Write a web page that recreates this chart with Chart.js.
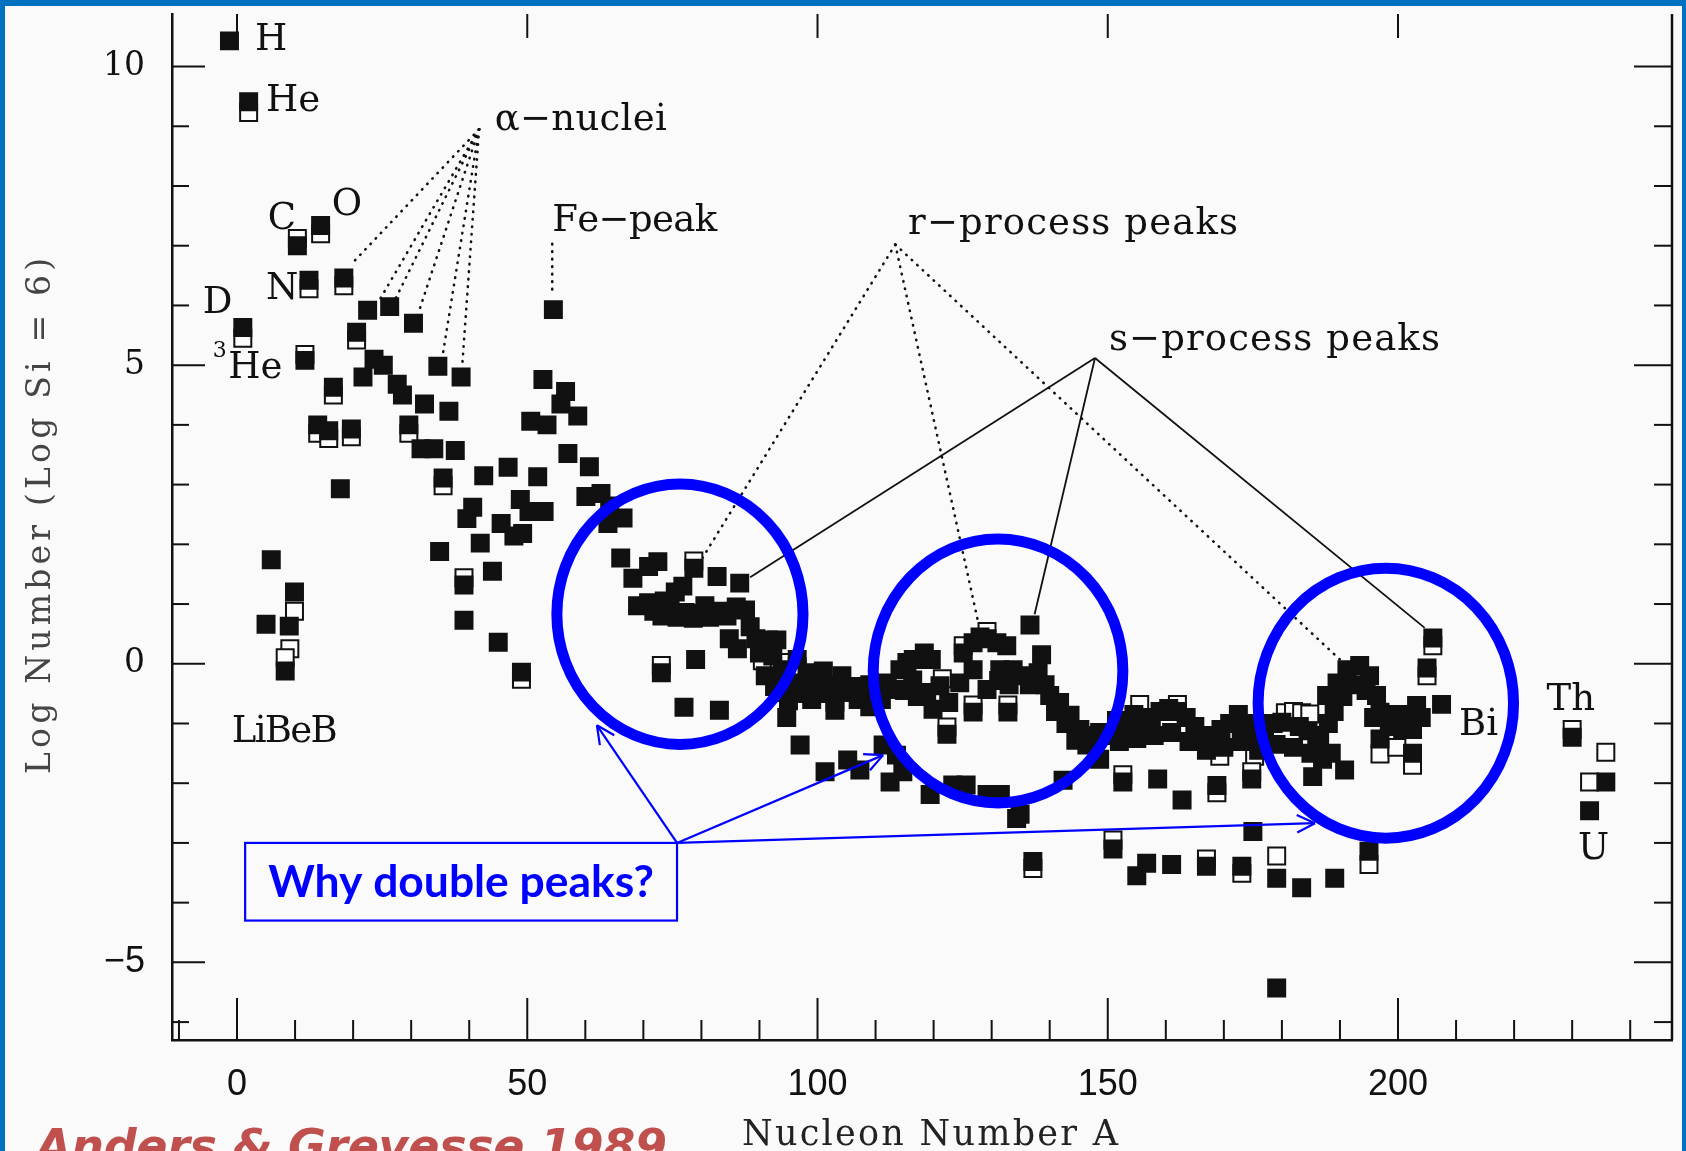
<!DOCTYPE html>
<html>
<head>
<meta charset="utf-8">
<script src="https://cdn.jsdelivr.net/npm/chart.js@4.4.1/dist/chart.umd.min.js"></script>
<style>
  html, body { margin: 0; padding: 0; background: #fafafa; }
  #wrap { position: relative; width: 1686px; height: 1151px; overflow: hidden; }
  #frame { position: absolute; left: 0; top: 0; width: 1686px; height: 1151px; box-sizing: border-box;
           border-top: 6px solid #0070c0; border-left: 5px solid #0070c0; border-right: 4px solid #0070c0;
           pointer-events: none; }
</style>
</head>
<body>
<div id="wrap">
  <canvas id="abund" width="1686" height="1151"></canvas>
  <div id="frame"></div>
</div>
<script>
// axis ranges and tick labels
var xRange = [-11.2, 247.2];
var yRange = [-6.3, 10.88];
var xTickStep = 50;
var yTickStep = 5;

// solar abundances: [nucleon number A, log N]
// filled squares
var filledLight = [
  [-1.3,10.43],[2.0,9.41],[1.0,5.63],
  [5.9,1.74],[5.0,0.66],[9.0,0.63],[9.9,1.2],[8.3,-0.12],
  [10.4,7.0],[11.7,5.08],[12.4,6.42],[14.4,7.34],[16.6,4.63],
  [13.9,4.0],[15.8,3.9],[19.7,3.93],[17.8,2.93],[18.4,6.46],
  [20.6,5.55],[21.7,4.8],[22.5,5.92],[23.6,5.1],[25.2,5.0],
  [27.6,4.68],[28.5,4.5],[26.3,5.98],[29.6,4.0],[31.7,3.6],[33.9,3.6],
  [32.3,4.35],[30.4,5.7],[36.5,4.23],[37.6,3.57],[34.6,4.98],[38.6,4.8],
  [35.5,3.11],[42.5,3.15],[40.6,2.62],[39.6,2.43],[41.9,2.02],[34.9,1.88],
  [44.0,1.55],[39.1,1.32],[39.1,0.73],[45.0,0.36],[49.0,-0.14]
];
var filledFe = [
  [54.5,5.93],[52.7,4.76],[56.6,4.56],[55.8,4.35],[58.7,4.15],
  [50.6,4.06],[53.4,4.0],[57.0,3.52],[60.7,3.3],[46.7,3.29],
  [51.8,3.13],[60.1,2.8],[62.7,2.85],[48.8,2.75],[45.5,2.35],[50.3,2.55],[52.9,2.55],
  [47.7,2.14],[49.2,2.18],[63.9,2.35],[66.5,2.44],[64.2,2.64],[66.1,1.77]
];
var filledBand70 = [
  [72.5,1.71],[68.2,1.43],[70.9,1.63],[78.7,1.6],[82.7,1.46],[86.6,1.35],
  [76.8,1.3],[75.5,1.2],[70.9,1.02],[69.0,0.97],
  [71.8,0.88],[73.2,0.8],[74.6,0.92],[75.8,0.78],[77.2,0.86],[78.6,0.76],
  [80.0,0.84],[81.4,0.78],[83.0,0.88],[84.4,0.8],[86.0,0.95],[87.6,0.9],[73.6,1.05],[80.6,0.97],
  [84.8,0.42],[86.2,0.25],[79.0,0.07],[73.1,-0.15],[77.0,-0.73],[83.1,-0.78],
  [88.4,0.62],[89.4,0.42],[90.0,0.18]
];
var filledBand90 = [
  [91.5,0.4],[93.0,0.4],[92.3,0.13],[91.0,-0.2],[94.0,-0.1],[96.5,0.07],
  [92.6,-0.38],[94.2,-0.48],[95.6,-0.32],[97.0,-0.5],[98.5,-0.38],[100.0,-0.3],
  [101.0,-0.12],[101.6,-0.5],[103.0,-0.35],[104.5,-0.48],[106.0,-0.38],[107.5,-0.5],
  [109.0,-0.35],[110.5,-0.45],[112.0,-0.32],[113.6,-0.43],[98.2,-0.15],[104.2,-0.2],
  [95.0,-0.62],[99.0,-0.6],[103.0,-0.64],[107.0,-0.6],[111.0,-0.6],
  [94.7,-0.9],[97.0,-1.36],[101.3,-1.81],[103.0,-0.78],[105.2,-1.61],[107.3,-1.78],
  [109.0,-0.72],[111.3,-1.36],[113.6,-1.53],[112.5,-1.98],[114.7,-1.81]
];
var filledBand115 = [
  [114.2,-0.1],[115.4,0.02],[116.5,0.07],[118.4,0.18],[119.6,0.07],[116.4,-0.27],[118.8,-0.48],
  [119.9,-0.76],[121.1,-0.37],[122.6,-0.65],[122.3,-1.18],[124.5,-0.32],[125.1,0.18],
  [126.8,0.35],[128.0,0.45],[129.2,0.42],[130.9,0.35],[126.8,-0.1],[129.2,-0.43],[126.8,-0.81],
  [131.4,-0.1],[132.8,-0.81],[131.2,-0.28],[133.7,-0.1],[115.0,-0.45],[117.2,-0.55],
  [119.4,-2.19],[123.3,-2.03],[125.6,-2.03],[129.2,-2.19],[131.5,-2.19],[134.3,-2.59],[134.9,-2.52],
  [136.6,0.65],[138.6,0.15],[132.6,0.3],[133.0,-0.35],[135.0,-0.2],[136.5,-0.35],[138.0,-0.15],[139.2,-0.35],
  [140.0,-0.53],[141.7,-0.65],[143.5,-0.86],[145.2,-1.1],[146.4,-1.36],[148.6,-1.6],[148.6,-1.15],
  [141.0,-0.8],[142.8,-1.0],[144.5,-1.28],[147.0,-1.2],
  [142.3,-1.95],[137.1,-3.31],[150.9,-3.1]
];
var filledBand150 = [
  [150.0,-1.2],[151.5,-0.95],[153.0,-1.1],[154.5,-0.85],[156.0,-1.0],[157.5,-0.9],[159.0,-0.8],
  [160.5,-0.75],[162.0,-0.8],[163.5,-0.9],[165.0,-1.05],[166.5,-1.2],[168.0,-1.3],[169.5,-1.1],
  [171.0,-1.0],[172.5,-0.85],[174.0,-1.0],[175.5,-1.2],[177.0,-1.1],[178.5,-1.0],[180.0,-0.98],
  [183.0,-1.05],[184.5,-1.12],[186.0,-1.2],
  [152.0,-1.3],[155.0,-1.25],[158.0,-1.2],[161.0,-1.15],[164.0,-1.3],[167.0,-1.45],[170.0,-1.4],
  [173.0,-1.3],[176.0,-1.45],[179.0,-1.35],[182.0,-1.4],[185.0,-1.5],[187.0,-1.6],[188.5,-1.5],
  [152.6,-1.98],[158.6,-1.93],[162.8,-2.28],[168.8,-2.04],[174.8,-1.93],[185.3,-1.89],[190.8,-1.78],
  [155.0,-3.55],[156.7,-3.34],[161.0,-3.36],[167.0,-3.39],[173.1,-3.39],[175.0,-2.81],
  [179.1,-3.59],[183.4,-3.75],[189.1,-3.59],[195.0,-3.14],[179.1,-5.43]
];
var filledPb = [
  [187.7,-0.53],[189.5,-0.32],[191.2,-0.1],[193.4,-0.03],[195.1,-0.2],[196.3,-0.53],[196.9,-0.81],
  [196.9,-1.26],[199.8,-0.85],[200.8,-1.1],[202.5,-1.1],[203.2,-0.7],[207.5,-0.68],[205.0,-0.07],
  [206.0,0.43],[189.0,-0.8],[190.5,-0.55],[192.0,-0.35],[194.5,-0.45],[195.8,-0.9],[188.0,-1.0],
  [186.5,-1.3],[198.5,-1.05],[201.5,-0.85],[204.0,-0.9],[202.5,-1.5],
  [230.0,-1.23],[235.8,-1.98],[233.0,-2.46]
];
// open squares
var openLight = [
  [2.0,9.23],[1.0,5.45],[9.9,0.88],[9.1,0.25],[8.3,0.1],[10.4,7.12],[11.7,5.18],[12.4,6.28],
  [14.4,7.2],[16.6,4.5],[13.9,3.86],[15.8,3.77],[19.7,3.8],[18.4,6.33],[20.6,5.42],[29.6,3.86],
  [35.5,2.98],[39.1,1.44],[49.0,-0.26]
];
var openHeavy = [
  [78.7,1.72],[73.1,-0.03],[92.3,0.02],[94.0,0.02],[96.5,-0.05],[90.5,0.05],
  [122.3,-1.06],[129.2,0.54],[125.1,0.3],[126.8,-0.69],[132.8,-0.69],[121.5,-0.25],
  [152.6,-1.86],[155.5,-0.68],[162.0,-0.68],[169.3,-1.55],[175.3,-1.55],[168.8,-2.16],[174.8,-1.81],
  [150.9,-2.95],[137.1,-3.43],[179.1,-3.22],[195.0,-3.36],[173.1,-3.51],[167.0,-3.27],
  [180.6,-0.82],[182.0,-0.8],[183.4,-0.82],[184.8,-0.84],
  [196.9,-1.51],[199.8,-1.4],[202.5,-1.7],[205.0,-0.2],[206.0,0.3],
  [230.0,-1.1],[235.8,-1.48],[233.0,-1.98]
];

// text labels in data units: text, A (left edge), log N (baseline), width px (0 = natural)
var labels = [
  ['H', 3.1, 10.27, 0], ['He', 5.0, 9.25, 0], ['C', 5.3, 7.28, 0], ['O', 16.3, 7.52, 0],
  ['N', 5.0, 6.11, 0], ['D', -5.9, 5.88, 0], ['He', -1.5, 4.78, 0], ['LiBeB', -0.9, -1.31, 106],
  ['\u03b1\u2212nuclei', 44.4, 8.94, 172], ['Fe\u2212peak', 54.3, 7.24, 165],
  ['r\u2212process peaks', 115.6, 7.19, 330], ['s\u2212process peaks', 150.2, 5.25, 331],
  ['Bi', 210.5, -1.2, 0], ['Th', 225.6, -0.78, 0], ['U', 231.0, -3.27, 0]
];
// leader lines: start point then targets
var alphaLeader = [[41.7, 8.95], [19.6,6.68],[24.6,6.1],[27.4,6.13],[31.4,5.92],[35.4,5.15],[38.8,5.0]];
var feLeader = [[54.3, 7.03], [54.3, 6.16]];
var rLeader = [[113.4, 7.02], [80.1,1.76],[127.6,0.73],[190.0,0.07]];
var sLeader = [[147.8, 5.12], [88.4,1.45],[137.4,0.83],[204.6,0.6]];

// slide overlay: circles [A, logN, rA, rLog], box, arrows
var circles = [[76.3, 0.83, 21.2, 2.18], [131.1, -0.12, 21.5, 2.21], [197.9, -0.66, 22.0, 2.26]];
var noteBox = [1.4, -3.0, 75.8, -4.3];
var arrowTips = [[62.0, -1.03], [111.3, -1.53], [185.7, -2.67]];

function toPoints(list) {
  return list.map(function(p) { return {x: p[0], y: p[1]}; });
}

function spacedText(ctx, text, x, y, width) {
  var chars = Array.from(text);
  var natural = 0;
  chars.forEach(function(c) { natural += ctx.measureText(c).width; });
  var gap = (width && chars.length > 1) ? (width - natural) / (chars.length - 1) : 0;
  var cx = x;
  chars.forEach(function(c) {
    ctx.fillText(c, cx, y);
    cx += ctx.measureText(c).width + gap;
  });
}

function line(ctx, x1, y1, x2, y2) {
  ctx.beginPath(); ctx.moveTo(x1, y1); ctx.lineTo(x2, y2); ctx.stroke();
}

var overlay = {
  id: 'overlay',
  beforeDatasetsDraw: function(chart) {
    var ctx = chart.ctx, sx = chart.scales.x, sy = chart.scales.y, area = chart.chartArea;
    ctx.save();
    ctx.strokeStyle = '#111';
    ctx.lineWidth = 2;
    // inward ticks
    for (var v = -6; v <= 10; v++) {
      var y = sy.getPixelForValue(v), major = v % 5 === 0;
      line(ctx, area.left, y, area.left + (major ? 33 : 17), y);
      line(ctx, area.right, y, area.right - (major ? 38 : 18), y);
    }
    for (var a = -10; a <= 240; a += 10) {
      var x = sx.getPixelForValue(a), maj = a % 50 === 0;
      line(ctx, x, area.bottom, x, area.bottom - (maj ? 42 : 20));
      if (maj) line(ctx, x, area.top, x, area.top + 24);
    }
    ctx.lineWidth = 2.5;
    line(ctx, area.right, area.top, area.right, area.bottom);

    // leaders
    function leader(list, dotted) {
      ctx.setLineDash(dotted ? [0.5, 7] : []);
      ctx.lineCap = dotted ? 'round' : 'butt';
      ctx.lineWidth = dotted ? 2.6 : 1.8;
      var x0 = sx.getPixelForValue(list[0][0]), y0 = sy.getPixelForValue(list[0][1]);
      for (var i = 1; i < list.length; i++) {
        line(ctx, x0, y0, sx.getPixelForValue(list[i][0]), sy.getPixelForValue(list[i][1]));
      }
    }
    leader(alphaLeader, true);
    leader(feLeader, true);
    leader(rLeader, true);
    leader(sLeader, false);
    ctx.setLineDash([]);

    // labels
    ctx.fillStyle = '#111';
    ctx.textBaseline = 'alphabetic';
    ctx.textAlign = 'left';
    ctx.font = '37px "DejaVu Serif"';
    labels.forEach(function(l) {
      spacedText(ctx, l[0], sx.getPixelForValue(l[1]), sy.getPixelForValue(l[2]), l[3]);
    });
    ctx.font = '22px "DejaVu Serif"';
    ctx.fillText('3', sx.getPixelForValue(-4.2), sy.getPixelForValue(5.13));
    ctx.restore();
  },
  afterDraw: function(chart) {
    var ctx = chart.ctx, sx = chart.scales.x, sy = chart.scales.y;
    ctx.save();
    // axis titles
    ctx.fillStyle = '#222';
    ctx.textBaseline = 'alphabetic';
    ctx.textAlign = 'left';
    ctx.font = '35px "DejaVu Serif"';
    spacedText(ctx, 'Nucleon Number A', 742, 1145, 376);
    ctx.save();
    ctx.translate(50, 774);
    ctx.rotate(-Math.PI / 2);
    ctx.fillStyle = '#444';
    ctx.font = '33px "DejaVu Serif"';
    spacedText(ctx, 'Log Number (Log Si = 6)', 0, 0, 516);
    ctx.restore();

    // blue circles
    ctx.strokeStyle = '#0000ff';
    ctx.lineWidth = 11;
    circles.forEach(function(c) {
      var cx = sx.getPixelForValue(c[0]), cy = sy.getPixelForValue(c[1]);
      var rx = Math.abs(sx.getPixelForValue(c[0] + c[2]) - cx);
      var ry = Math.abs(sy.getPixelForValue(c[1] + c[3]) - cy);
      ctx.beginPath();
      ctx.ellipse(cx, cy, rx, ry, 0, 0, Math.PI * 2);
      ctx.stroke();
    });

    // note box and arrows
    var bx1 = sx.getPixelForValue(noteBox[0]), by1 = sy.getPixelForValue(noteBox[1]);
    var bx2 = sx.getPixelForValue(noteBox[2]), by2 = sy.getPixelForValue(noteBox[3]);
    ctx.lineWidth = 2.2;
    ctx.strokeRect(bx1, by1, bx2 - bx1, by2 - by1);
    arrowTips.forEach(function(t) {
      var tx = sx.getPixelForValue(t[0]), ty = sy.getPixelForValue(t[1]);
      line(ctx, bx2, by1, tx, ty);
      var ang = Math.atan2(ty - by1, tx - bx2);
      [0.45, -0.45].forEach(function(d) {
        line(ctx, tx, ty, tx - 20 * Math.cos(ang + d), ty - 20 * Math.sin(ang + d));
      });
    });
    ctx.fillStyle = '#0000ff';
    ctx.textAlign = 'center';
    ctx.textBaseline = 'alphabetic';
    var fs = 42;
    ctx.font = 'bold ' + fs + 'px Lato';
    var w = ctx.measureText('Why double peaks?').width;
    fs = fs * 386 / w;
    ctx.font = 'bold ' + fs.toFixed(1) + 'px Lato';
    ctx.fillText('Why double peaks?', (bx1 + bx2) / 2, 897);

    // citation, cut by the slide edge
    ctx.fillStyle = '#c0504d';
    ctx.textAlign = 'left';
    ctx.font = 'italic bold 46px "DejaVu Sans"';
    spacedText(ctx, 'Anders & Grevesse 1989', 36, 1162, 631);
    ctx.restore();
  }
};

new Chart(document.getElementById('abund').getContext('2d'), {
  type: 'scatter',
  data: {
    datasets: [
      {
        label: 'filled',
        data: toPoints([].concat(filledLight, filledFe, filledBand70, filledBand90, filledBand115, filledBand150, filledPb)),
        pointStyle: 'rect',
        pointRadius: 12,
        backgroundColor: '#111',
        borderColor: '#111',
        borderWidth: 2
      },
      {
        label: 'open',
        data: toPoints([].concat(openLight, openHeavy)),
        pointStyle: 'rect',
        pointRadius: 12,
        backgroundColor: '#fdfdfd',
        borderColor: '#111',
        borderWidth: 2
      }
    ]
  },
  options: {
    responsive: false,
    animation: false,
    layout: { padding: { top: 6, right: 14, left: 0, bottom: 0 } },
    plugins: { legend: { display: false }, tooltip: { enabled: false } },
    scales: {
      x: {
        type: 'linear',
        min: xRange[0],
        max: xRange[1],
        afterFit: function(scale) { scale.height = 111; scale.paddingLeft = 0; scale.paddingRight = 0; },
        grid: { display: false, drawTicks: false },
        border: { display: true, color: '#111', width: 2.5 },
        ticks: {
          stepSize: xTickStep,
          includeBounds: false,
          padding: 23,
          color: '#111',
          font: { family: 'Liberation Sans', size: 36 }
        }
      },
      y: {
        type: 'linear',
        min: yRange[0],
        max: yRange[1],
        afterFit: function(scale) { scale.width = 172; scale.paddingTop = 0; scale.paddingBottom = 0; },
        grid: { display: false, drawTicks: false },
        border: { display: true, color: '#111', width: 2.5 },
        ticks: {
          stepSize: yTickStep,
          includeBounds: false,
          padding: 27,
          color: '#111',
          font: function(c) {
            return c.tick && c.tick.value < 0
              ? { family: 'Liberation Sans', size: 36 }
              : { family: 'DejaVu Serif', size: 33 };
          },
          callback: function(v) { return v < 0 ? '\u2212' + Math.abs(v) : String(v); }
        }
      }
    }
  },
  plugins: [overlay]
});
</script>
</body>
</html>
